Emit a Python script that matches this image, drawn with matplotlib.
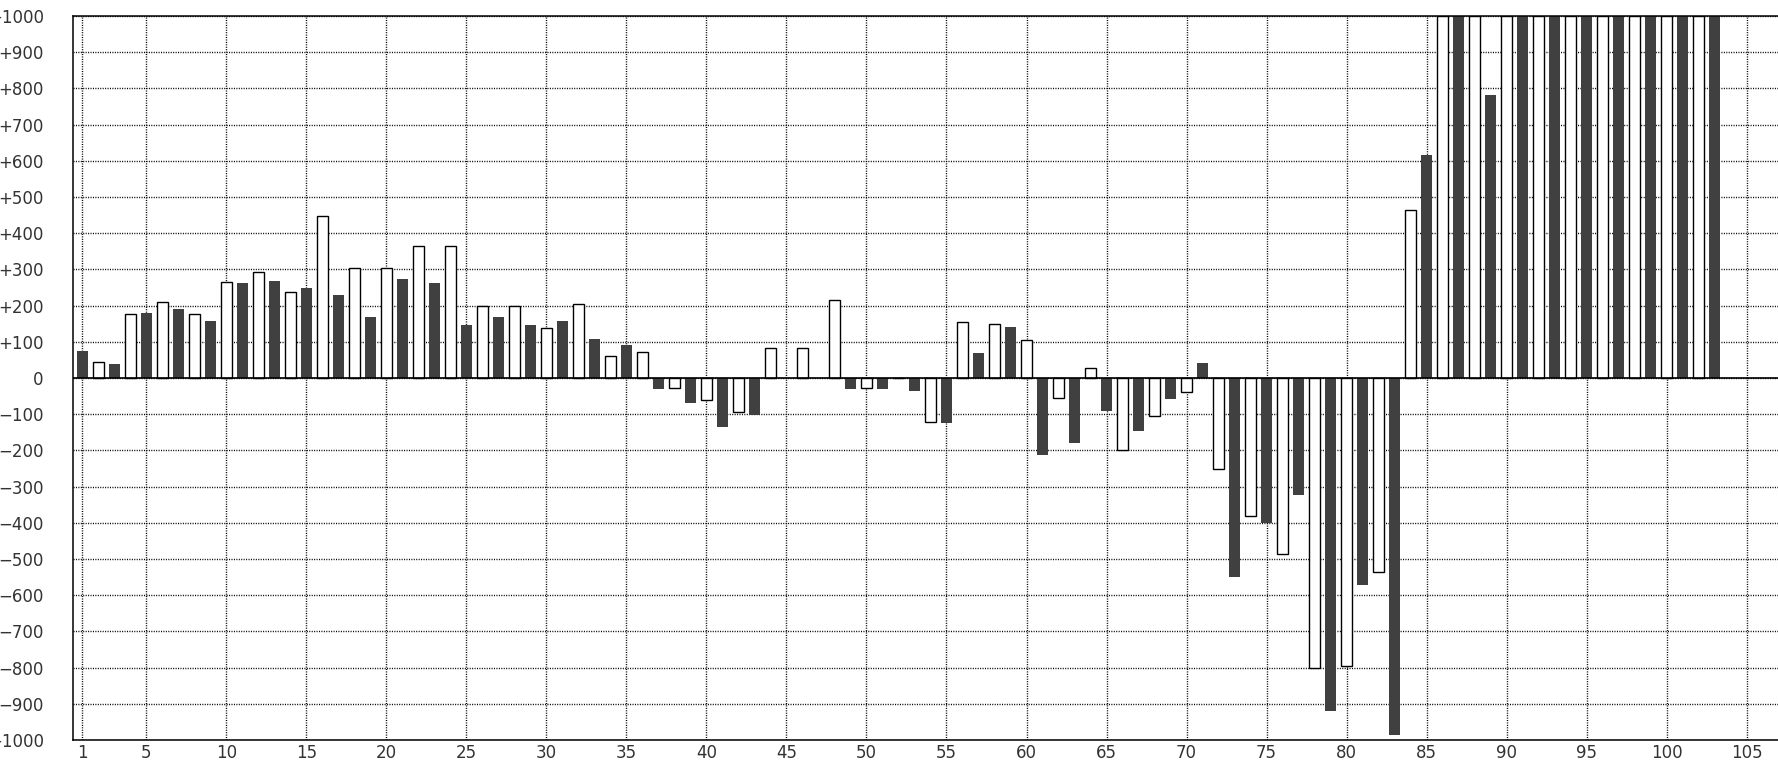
import matplotlib
matplotlib.use("Agg")
import matplotlib.pyplot as plt

# bar values for x = 1..103 (odd = dark bars, even = white bars)
# bars that run off the top of the chart are entered as 1000
values = [
    75, 45, 40, 178, 179, 210, 190, 178, 157, 265,
    262, 293, 267, 238, 250, 448, 228, 305, 168, 305,
    273, 365, 262, 365, 146, 199, 168, 199, 146, 138,
    157, 204, 107, 61, 90, 72, -30, -28, -68, -62,
    -134, -94, -101, 83, 0, 83, 0, 216, -30, -28,
    -30, 0, -36, -122, -124, 155, 68, 150, 140, 105,
    -213, -56, -180, 28, -91, -199, -147, -106, -58, -40,
    41, -250, -550, -382, -401, -487, -323, -802, -919, -795,
    -572, -537, -986, 464, 615, 1000, 1000, 1000, 781, 1000,
    1000, 1000, 1000, 1000, 1000, 1000, 1000, 1000, 1000, 1000,
    1000, 1000, 1000,
]
positions = list(range(1, len(values) + 1))

x_ticks = [1] + list(range(5, 106, 5))
y_ticks = list(range(-1000, 1001, 100))

dark_x = [p for p in positions if p % 2 == 1]
dark_v = [values[p - 1] for p in dark_x]
white_x = [p for p in positions if p % 2 == 0]
white_v = [values[p - 1] for p in white_x]

fig = plt.figure(figsize=(17.78, 7.6), dpi=100)
ax = fig.add_axes([73 / 1778, 20 / 760, 1 - 73 / 1778, 724 / 760])

ax.bar(dark_x, dark_v, width=0.72, color="#404040", zorder=2)
ax.bar(white_x, white_v, width=0.72, color="white", edgecolor="black",
       linewidth=1.0, zorder=2)
ax.axhline(0, color="black", linewidth=1.2, zorder=3)

ax.set_xlim(0.42, 1 + (1778 - 82.7) / 16)
ax.set_ylim(-1000, 1000)

ax.set_xticks(x_ticks)
ax.set_xticklabels([str(t) for t in x_ticks])
ax.set_yticks(y_ticks)


def fmt(v):
    if v > 0:
        return "+%d" % v
    if v < 0:
        return "\u2212%d" % -v
    return "0"


ax.set_yticklabels([fmt(v) for v in y_ticks])
ax.tick_params(axis="both", length=0, labelsize=12, labelcolor="#333333")
ax.tick_params(axis="y", pad=21)
ax.tick_params(axis="x", pad=3)

# dotted grid
ax.set_axisbelow(True)
ax.grid(True, color="black", linestyle=(0, (0.75, 1.0)), linewidth=1.0)

for side in ["left", "top", "bottom"]:
    ax.spines[side].set_linewidth(1.1)
    ax.spines[side].set_color("black")
ax.spines["right"].set_visible(False)

fig.savefig("out.png", dpi=100)
